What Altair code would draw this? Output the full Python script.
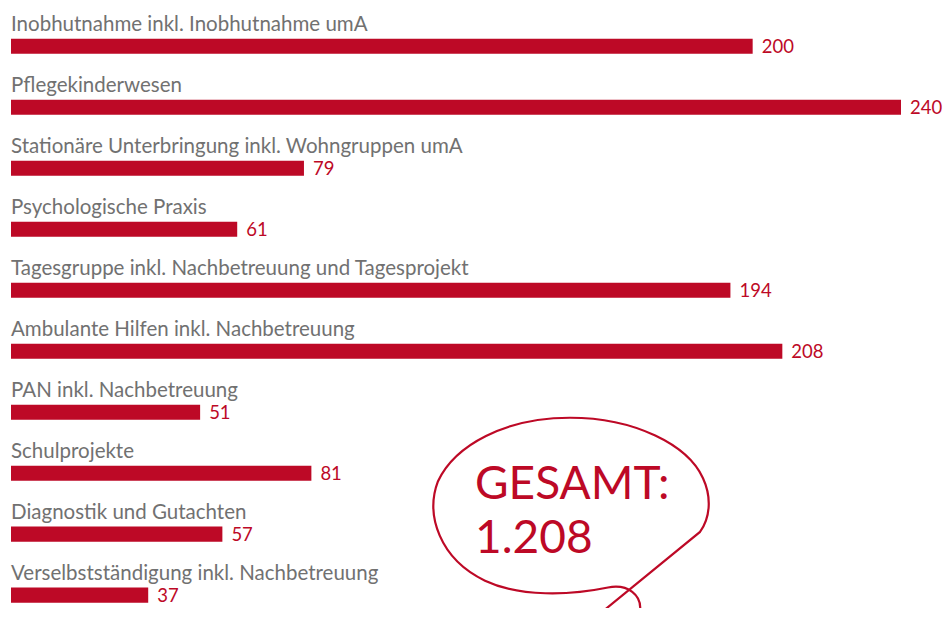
import altair as alt
import pandas as pd

categories = [
    "Inobhutnahme inkl. Inobhutnahme umA",
    "Pflegekinderwesen",
    "Stationäre Unterbringung inkl. Wohngruppen umA",
    "Psychologische Praxis",
    "Tagesgruppe inkl. Nachbetreuung und Tagesprojekt",
    "Ambulante Hilfen inkl. Nachbetreuung",
    "PAN inkl. Nachbetreuung",
    "Schulprojekte",
    "Diagnostik und Gutachten",
    "Verselbstständigung inkl. Nachbetreuung",
]
values = [200, 240, 79, 61, 194, 208, 51, 81, 57, 37]
total_label = ["GESAMT:", "1.208"]

RED = "#bd0926"
GRAY = "#717171"
FONT = "Lato"

W, H = 935, 600
K = 0.9755  # vertical compression so the whole chart fits the page


def vy(ref_y):
    """reference page y -> chart y"""
    return (ref_y - 12) * K + 2


df = pd.DataFrame({"cat": categories, "value": values, "i": list(range(len(values)))})

xs = alt.Scale(domain=[0, 240], range=[3, 893])
ys = alt.Scale(domain=[0, 9], range=[vy(44), vy(617)], zero=False, nice=False)

base = alt.Chart(df)

bars = base.mark_bar(orient="horizontal", size=15.5 * K, color=RED).encode(
    x=alt.X("value:Q", scale=xs, axis=None),
    y=alt.Y("i:Q", scale=ys, axis=None),
)

labels = base.mark_text(
    align="left", baseline="alphabetic", dy=-16 * K, font=FONT, fontSize=20.5, color=GRAY
).encode(
    x=alt.value(3),
    y=alt.Y("i:Q", scale=ys, axis=None),
    text="cat:N",
)

nums = base.mark_text(
    align="left", baseline="alphabetic", dx=9, dy=7 * K, font=FONT, fontSize=18.5, color=RED
).encode(
    x=alt.X("value:Q", scale=xs, axis=None),
    y=alt.Y("i:Q", scale=ys, axis=None),
    text="value:Q",
)

# speech bubble outline (decoration), reference-page control points
cx, cy, unit = 570, 535, 150
bubble_pts = [
    ("M", [(589, 640)]),
    ("L", [(700, 547)]),
    ("C", [(710, 533), (712, 512), (703, 492)]),
    ("C", [(688, 458), (635, 430), (570, 430)]),
    ("C", [(505, 430), (455, 458), (438, 495)]),
    ("C", [(425, 530), (440, 575), (485, 597)]),
    ("C", [(520, 614), (570, 612), (608, 604)]),
    ("C", [(628, 600), (642, 612), (640, 628)]),
    ("L", [(639, 640)]),
]
path = " ".join(
    cmd + " " + " ".join(f"{(x - cx) / unit:.4f},{(y - cy) * K / unit:.4f}" for x, y in pts)
    for cmd, pts in bubble_pts
)

one = pd.DataFrame({"a": [0]})
bubble = alt.Chart(one).mark_point(
    shape=path, filled=False, stroke=RED, strokeWidth=2.2, opacity=1, size=(2 * unit) ** 2
).encode(x=alt.value(cx - 8), y=alt.value(vy(cy)))

total1 = alt.Chart(one).mark_text(
    align="left", baseline="alphabetic", font=FONT, fontSize=46, color=RED, text=total_label[0]
).encode(x=alt.value(467), y=alt.value(vy(513)))
total2 = alt.Chart(one).mark_text(
    align="left", baseline="alphabetic", font=FONT, fontSize=46, color=RED, text=total_label[1]
).encode(x=alt.value(467), y=alt.value(vy(569)))

chart = (
    alt.layer(bars, labels, nums, bubble, total1, total2)
    .properties(width=W, height=H, autosize=alt.AutoSizeParams(type="none"), padding=0)
    .configure_view(stroke=None)
)

chart.save("out.html", embed_options={"renderer": "svg", "actions": False})
